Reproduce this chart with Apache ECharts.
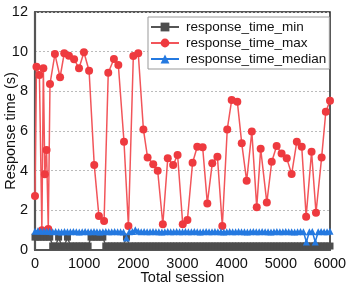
<!DOCTYPE html>
<html><head><meta charset="utf-8">
<script src="https://cdn.jsdelivr.net/npm/echarts@6/dist/echarts.min.js"></script>
<style>html,body{margin:0;padding:0;background:#fff}#c{width:349px;height:287px}</style>
</head><body><div id="c"></div>
<script>
// Max series (sampled sessions and values)
var maxSessions = [0, 30, 90, 140, 170, 200, 235, 270, 305, 405, 510, 595, 690, 795, 895, 995, 1100, 1205, 1300, 1405,
  1490, 1605, 1695, 1810, 1900, 2000, 2100, 2205, 2290, 2405, 2495, 2600, 2700, 2810, 2900, 3005,
  3100, 3205, 3300, 3410, 3505, 3605, 3710, 3810, 3910, 4000, 4115, 4205, 4305, 4410, 4510, 4590,
  4715, 4815, 4915, 5015, 5120, 5220, 5325, 5425, 5515, 5625, 5715, 5830, 5915, 6000];
var maxValues = [2.72, 9.24, 8.82, 1.0, 9.16, 3.82, 5.04, 1.06, 8.37, 9.88, 8.71, 9.92, 9.8, 9.62, 9.16, 9.97, 9.04, 4.29, 1.71, 1.46,
  8.94, 9.63, 9.33, 5.46, 1.21, 9.78, 9.92, 6.08, 4.66, 4.32, 4.0, 1.3, 4.62, 4.29, 4.79, 1.3,
  1.51, 4.4, 5.21, 5.18, 2.35, 4.37, 4.7, 1.21, 6.08, 7.56, 7.48, 5.38, 3.49, 5.97, 2.15, 5.1,
  2.39, 4.45, 5.24, 4.87, 4.62, 3.83, 5.46, 5.21, 1.68, 4.96, 1.88, 4.67, 6.97, 7.53];

// Min and median series share these sessions
var sessions = [0,60,120,180,240,300,360,420,480,540,600,660,720,780,840,900,960,1020,1080,1140,1200,1260,1320,1380,1440,1500,1560,1620,1680,1740,1800,1860,1920,1980,2040,2100,2160,2220,2280,2340,2400,2460,2520,2580,2640,2700,2760,2820,2880,2940,3000,3060,3120,3180,3240,3300,3360,3420,3480,3540,3600,3660,3720,3780,3840,3900,3960,4020,4080,4140,4200,4260,4320,4380,4440,4500,4560,4620,4680,4740,4800,4860,4920,4980,5040,5100,5160,5220,5280,5340,5400,5460,5520,5580,5640,5700,5760,5820,5880,5940,6000];
var minValues = [0.65,0.65,0.65,0.65,0.65,0.65,0.2,0.2,0.65,0.2,0.2,0.65,0.2,0.2,0.2,0.2,0.2,0.2,0.2,0.65,0.65,0.65,0.65,0.65,0.2,0.2,0.2,0.2,0.2,0.2,0.2,0.65,0.2,0.2,0.2,0.2,0.2,0.2,0.2,0.2,0.2,0.2,0.2,0.2,0.2,0.2,0.2,0.2,0.2,0.2,0.2,0.2,0.2,0.2,0.2,0.2,0.2,0.2,0.2,0.2,0.2,0.2,0.2,0.2,0.2,0.2,0.2,0.2,0.2,0.2,0.2,0.2,0.2,0.2,0.2,0.2,0.2,0.2,0.2,0.2,0.2,0.2,0.2,0.2,0.2,0.2,0.2,0.2,0.2,0.2,0.2,0.2,0.2,0.2,0.2,0.2,0.2,0.2,0.2,0.2,0.2];
var medianValues = [0.95,0.97,0.94,0.96,0.95,0.94,0.92,0.93,0.92,0.91,0.93,0.92,0.92,0.93,0.92,0.91,0.92,0.93,0.92,0.92,0.93,0.92,0.91,0.92,0.93,0.92,0.92,0.93,0.92,0.92,0.91,0.6,0.92,0.93,1.02,0.95,0.92,0.93,0.92,0.92,0.93,0.92,0.92,0.91,0.92,0.93,0.92,0.92,0.93,0.92,0.92,0.93,0.92,0.92,0.93,0.92,0.91,0.92,0.93,0.92,0.92,0.93,0.92,0.92,0.91,0.92,0.93,0.92,0.92,0.93,0.92,0.92,0.91,0.92,0.93,0.92,0.92,0.93,0.92,0.92,0.91,0.92,0.93,0.92,0.92,0.93,0.92,0.92,0.91,0.92,0.93,0.92,0.4,0.92,0.93,0.4,0.92,0.93,0.92,0.92,0.95];

var xTicks = [0, 1000, 2000, 3000, 4000, 5000, 6000];
var yTicks = [0, 2, 4, 6, 8, 10, 12];

function pairs(xs, ys) { return xs.map(function (x, i) { return [x, ys[i]]; }); }

var font = '"Liberation Sans", Arial, sans-serif';
var chart = echarts.init(document.getElementById('c'), null, {renderer: 'canvas'});
chart.setOption({
  animation: false,
  backgroundColor: '#fff',
  grid: {left: 35, right: 19, top: 12, bottom: 37, show: true, borderColor: '#222', borderWidth: 1.5,
    containLabel: false, outerBoundsMode: 'none'},
  legend: {
    orient: 'vertical', left: 148, top: 17,
    backgroundColor: '#fff', borderColor: '#999', borderWidth: 1,
    padding: [3, 3, 3, 2], itemWidth: 28, itemHeight: 11, itemGap: 2,
    textStyle: {fontFamily: font, fontSize: 13.5, color: '#111', padding: [0, 0, 0, 2], lineHeight: 14},
    data: ['response_time_min', 'response_time_max', 'response_time_median']
  },
  xAxis: {
    type: 'value', min: xTicks[0], max: xTicks[xTicks.length - 1], interval: 1000,
    name: 'Total session', nameLocation: 'middle', nameGap: 20, nameMoveOverlap: false,
    nameTextStyle: {fontFamily: font, fontSize: 14.5, color: '#111'},
    axisLine: {show: true, onZero: false, lineStyle: {color: '#555', width: 2.2}},
    axisTick: {show: false},
    axisLabel: {fontFamily: font, fontSize: 14.5, color: '#111', margin: 6, formatter: function (v) { return String(v); }},
    splitLine: {show: false}
  },
  yAxis: {
    type: 'value', min: yTicks[0], max: yTicks[yTicks.length - 1], interval: 2,
    name: 'Response time (s)', nameLocation: 'middle', nameGap: 17, nameMoveOverlap: false,
    nameTextStyle: {fontFamily: font, fontSize: 14.5, color: '#111'},
    axisLine: {show: true, lineStyle: {color: '#555', width: 2.2}},
    axisTick: {show: false},
    axisLabel: {fontFamily: font, fontSize: 14.5, color: '#111', margin: 7, formatter: function (v) { return String(v); }},
    splitLine: {show: true, lineStyle: {color: '#bbb', width: 1, type: [2, 2]}}
  },
  series: [
    {name: 'response_time_min', type: 'line', data: pairs(sessions, minValues),
      symbol: 'rect', symbolSize: 7, showAllSymbol: true,
      itemStyle: {color: '#4d4d4d'}, lineStyle: {color: '#555', width: 1.5}},
    {name: 'response_time_max', type: 'line', data: pairs(maxSessions, maxValues),
      symbol: 'circle', symbolSize: 8, showAllSymbol: true,
      itemStyle: {color: '#ee3a3f'}, lineStyle: {color: '#f2555a', width: 1.5}},
    {name: 'response_time_median', type: 'line', data: pairs(sessions, medianValues),
      symbol: 'triangle', symbolSize: 7, showAllSymbol: true,
      itemStyle: {color: '#2479e0'}, lineStyle: {color: '#2479e0', width: 1.5}}
  ]
});
</script></body></html>
